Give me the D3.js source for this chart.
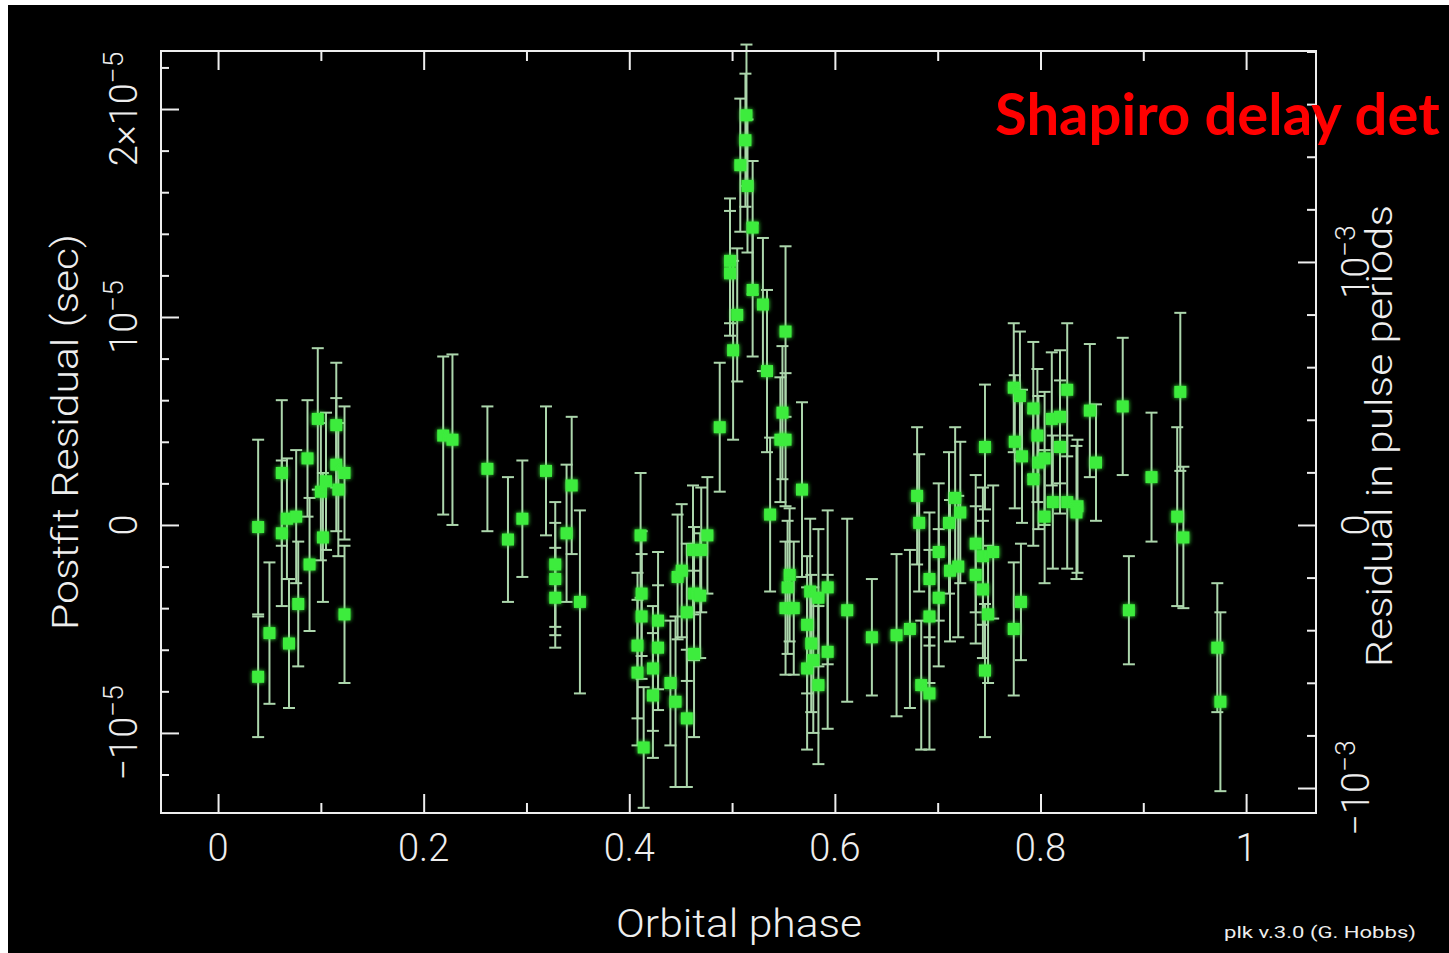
<!DOCTYPE html>
<html>
<head>
<meta charset="utf-8">
<script src="https://cdn.jsdelivr.net/npm/d3@7"></script>
<style>
  html, body { margin: 0; padding: 0; background: #ffffff; }
  svg { display: block; }
</style>
</head>
<body>
<div id="chart"></div>
<script>
// Postfit timing residuals vs orbital phase (plk plot)
// residuals and error bars in microseconds (10 us = 1e-5 s)
const phase = [
  0.039, 0.039, 0.050, 0.062, 0.062, 0.067, 0.069, 0.076, 0.078, 0.087,
  0.089, 0.097, 0.100, 0.102, 0.105, 0.115, 0.115, 0.117, 0.123, 0.123,
  0.219, 0.228, 0.262, 0.282, 0.296, 0.319, 0.328, 0.328, 0.328, 0.339,
  0.344, 0.352,
  0.411, 0.412, 0.412, 0.408, 0.408, 0.414, 0.428, 0.428, 0.423, 0.423,
  0.440, 0.445, 0.447, 0.451, 0.456, 0.456, 0.462, 0.463, 0.463, 0.469,
  0.470, 0.476,
  0.488, 0.498, 0.498, 0.501, 0.505, 0.508, 0.513, 0.514, 0.515, 0.520,
  0.520, 0.530, 0.534, 0.537, 0.547, 0.549, 0.552, 0.552, 0.568,
  0.556, 0.554, 0.552, 0.560, 0.576, 0.584, 0.593, 0.573, 0.577, 0.573,
  0.579, 0.584, 0.593, 0.612,
  0.636, 0.660, 0.673, 0.680, 0.682, 0.684, 0.692, 0.692, 0.692, 0.701,
  0.701, 0.711, 0.717, 0.722, 0.712, 0.720, 0.737, 0.744, 0.737, 0.744,
  0.749, 0.746, 0.746, 0.754, 0.774, 0.781, 0.774, 0.780, 0.775, 0.782,
  0.793, 0.797, 0.798, 0.793, 0.804, 0.804, 0.811, 0.819, 0.826, 0.819,
  0.812, 0.826, 0.836, 0.835, 0.848, 0.854, 0.880, 0.886, 0.908, 0.936,
  0.933, 0.939, 0.972, 0.975
];
const residualUs = [
  -0.1, -7.3, -5.2, 2.5, -0.4, 0.3, -5.7, 0.4, -3.8, 3.2,
  -1.9, 5.1, 1.6, -0.6, 2.1, 4.8, 2.9, 1.7, 2.5, -4.3,
  4.3, 4.1, 2.7, -0.7, 0.3, 2.6, -1.9, -2.6, -3.5, -0.4,
  1.9, -3.7,
  -0.5, -3.3, -4.4, -5.8, -7.1, -10.7, -4.6, -5.9, -6.9, -8.2,
  -7.6, -8.5, -2.5, -2.2, -4.2, -9.3, -1.2, -3.3, -6.2, -3.4,
  -1.2, -0.5,
  4.7, 12.7, 12.1, 8.4, 10.1, 17.3, 18.5, 19.7, 16.3, 14.3,
  11.3, 10.6, 7.4, 0.5, 4.1, 5.4, 9.3, 4.1, 1.7,
  -2.4, -3.0, -4.0, -4.0, -3.2, -3.5, -3.0, -4.8, -5.7, -6.9,
  -6.5, -7.7, -6.1, -4.1,
  -5.4, -5.3, -5.0, 1.4, 0.1, -7.7, -8.1, -2.6, -4.4, -1.3,
  -3.5, 0.1, 1.3, 0.6, -2.2, -2.0, -0.9, -1.5, -2.4, -3.1,
  -4.3, -7.0, 3.75, -1.3, -5.0, -3.7, 6.6, 6.2, 4.0, 3.3,
  5.6, 4.3, 3.0, 2.2, 3.2, 0.4, 5.1, 5.2, 6.5, 3.75,
  1.1, 1.1, 0.9, 0.6, 5.5, 3.0, 5.7, -4.1, 2.3, 6.4,
  0.4, -0.6, -5.9, -8.5
];
const errorUs = [
  4.2, 2.9, 3.4, 3.5, 3.5, 2.9, 3.1, 3.2, 3.0, 2.8,
  3.2, 3.4, 3.3, 3.1, 3.3, 3.0, 3.2, 3.2, 3.2, 3.3,
  3.8, 4.1, 3.0, 3.0, 2.8, 3.1, 3.0, 2.7, 2.4, 3.3,
  3.3, 4.4,
  3.0, 3.0, 3.0, 3.5, 3.5, 2.9, 3.3, 3.0, 3.0, 3.0,
  3.0, 4.1, 3.0, 3.2, 3.3, 3.3, 3.1, 3.2, 4.0, 3.0,
  3.0, 2.8,
  3.1, 3.0, 3.0, 4.3, 3.2, 3.2, 3.2, 3.4, 3.2, 3.2,
  3.2, 3.2, 3.9, 3.7, 3.0, 3.2, 4.1, 3.2, 4.2,
  3.2, 3.2, 3.2, 3.2, 3.5, 3.3, 3.7, 3.3, 3.3, 3.9,
  3.5, 3.8, 3.7, 4.4,
  2.8, 3.9, 3.8, 3.3, 3.3, 3.1, 2.7, 3.2, 3.2, 3.3,
  3.3, 3.4, 3.4, 3.4, 3.4, 3.4, 3.3, 3.3, 3.3, 3.3,
  3.3, 3.2, 3.0, 3.2, 3.2, 2.8, 3.1, 3.1, 3.2, 3.2,
  3.2, 3.2, 3.2, 3.2, 3.2, 3.2, 3.2, 3.2, 3.2, 3.2,
  3.2, 3.2, 3.2, 3.2, 3.2, 2.8, 3.3, 2.6, 3.1, 3.8,
  4.3, 3.4, 3.1, 4.3
];

// axis ticks
const xMajorTicks = [0, 0.2, 0.4, 0.6, 0.8, 1];
const xTickLabels = ["0", "0.2", "0.4", "0.6", "0.8", "1"];
const xMinorTicks = [0.1, 0.3, 0.5, 0.7, 0.9];
const yMajorTicks = [-10, 0, 10, 20];               // microseconds
const yTickLabels = [["\u221210", "\u22125"], ["0", ""], ["10", "\u22125"], ["2\u00d710", "\u22125"]];
const yMinorTicks = [-12, -8, -6, -4, -2, 2, 4, 6, 8, 12, 14, 16, 18, 22];
const rMajorTicks = [-1, 0, 1];                     // units of 1e-3 pulse periods
const rTickLabels = [["\u221210", "\u22123"], ["0", ""], ["10", "\u22123"]];
const rMinorTicks = [-0.8, -0.6, -0.4, -0.2, 0.2, 0.4, 0.6, 0.8, 1.2, 1.4, 1.6, 1.8];

const W = 1449, H = 953;
const frame = { left: 161, right: 1316, top: 51, bottom: 813 };
const ink = '#eeeeee';
const font = 'Roboto, "DejaVu Sans", sans-serif';

const svg = d3.select('#chart').append('svg')
    .attr('width', W)
    .attr('height', H);

svg.append('rect').attr('width', W).attr('height', H).attr('fill', '#ffffff');
svg.append('rect').attr('x', 8).attr('y', 5).attr('width', W - 8).attr('height', H - 5).attr('fill', '#000000');

const defs = svg.append('defs');
const glow = defs.append('filter').attr('id', 'glow')
    .attr('x', '-60%').attr('y', '-60%').attr('width', '220%').attr('height', '220%');
glow.append('feGaussianBlur').attr('stdDeviation', 2.2).attr('result', 'b');
const merge = glow.append('feMerge');
merge.append('feMergeNode').attr('in', 'b');
merge.append('feMergeNode').attr('in', 'SourceGraphic');

const x = d3.scaleLinear().domain([-0.0555, 1.068]).range([frame.left, frame.right]);
const y = d3.scaleLinear().domain([-13.85, 22.79]).range([frame.bottom, frame.top]);
const yR = d3.scaleLinear().domain([-1.095, 1.802]).range([frame.bottom, frame.top]);

// ---- data ----
const data = phase.map((p, i) => ({ p: p, r: residualUs[i], e: errorUs[i] }));
const plot = svg.append('g').attr('class', 'points');
const barColor = '#acd6ac';
const cap = 6;

plot.selectAll('line.err').data(data).enter().append('line')
    .attr('class', 'err')
    .attr('x1', d => x(d.p)).attr('x2', d => x(d.p))
    .attr('y1', d => y(d.r + d.e)).attr('y2', d => y(d.r - d.e))
    .attr('stroke', barColor).attr('stroke-width', 2);

['top', 'bottom'].forEach(side => {
    plot.selectAll('line.cap-' + side).data(data).enter().append('line')
        .attr('class', 'cap-' + side)
        .attr('x1', d => x(d.p) - cap).attr('x2', d => x(d.p) + cap)
        .attr('y1', d => y(side === 'top' ? d.r + d.e : d.r - d.e))
        .attr('y2', d => y(side === 'top' ? d.r + d.e : d.r - d.e))
        .attr('stroke', barColor).attr('stroke-width', 2);
});

plot.selectAll('rect.pt').data(data).enter().append('rect')
    .attr('class', 'pt')
    .attr('x', d => x(d.p) - 6).attr('y', d => y(d.r) - 6)
    .attr('width', 12).attr('height', 12)
    .attr('fill', '#3cec3c')
    .attr('filter', 'url(#glow)');

// ---- frame and ticks ----
const axes = svg.append('g').attr('class', 'axes');
const styleTicks = g => {
    g.select('.domain').remove();
    g.selectAll('.tick line').attr('stroke', ink).attr('stroke-width', 2);
    g.selectAll('.tick text').remove();
};

axes.append('g').attr('transform', `translate(0,${frame.bottom})`)
    .call(d3.axisBottom(x).tickValues(xMajorTicks).tickSize(-19).tickFormat('')).call(styleTicks);
axes.append('g').attr('transform', `translate(0,${frame.bottom})`)
    .call(d3.axisBottom(x).tickValues(xMinorTicks).tickSize(-10).tickFormat('')).call(styleTicks);
axes.append('g').attr('transform', `translate(0,${frame.top})`)
    .call(d3.axisTop(x).tickValues(xMajorTicks).tickSize(-19).tickFormat('')).call(styleTicks);
axes.append('g').attr('transform', `translate(0,${frame.top})`)
    .call(d3.axisTop(x).tickValues(xMinorTicks).tickSize(-10).tickFormat('')).call(styleTicks);
axes.append('g').attr('transform', `translate(${frame.left},0)`)
    .call(d3.axisLeft(y).tickValues(yMajorTicks).tickSize(-18).tickFormat('')).call(styleTicks);
axes.append('g').attr('transform', `translate(${frame.left},0)`)
    .call(d3.axisLeft(y).tickValues(yMinorTicks).tickSize(-8).tickFormat('')).call(styleTicks);
axes.append('g').attr('transform', `translate(${frame.right},0)`)
    .call(d3.axisRight(yR).tickValues(rMajorTicks).tickSize(-18).tickFormat('')).call(styleTicks);
axes.append('g').attr('transform', `translate(${frame.right},0)`)
    .call(d3.axisRight(yR).tickValues(rMinorTicks).tickSize(-9).tickFormat('')).call(styleTicks);

axes.append('rect')
    .attr('x', frame.left).attr('y', frame.top)
    .attr('width', frame.right - frame.left).attr('height', frame.bottom - frame.top)
    .attr('fill', 'none').attr('stroke', ink).attr('stroke-width', 2);

// ---- labels ----
const labels = svg.append('g')
    .attr('fill', ink)
    .style('font-family', font)
    .style('font-weight', 300);

labels.selectAll('text.xt').data(xMajorTicks).enter().append('text')
    .attr('class', 'xt')
    .attr('x', d => x(d)).attr('y', 861)
    .attr('text-anchor', 'middle')
    .style('font-size', '38px')
    .text((d, i) => xTickLabels[i]);

function rotatedTick(sel, xpos, scale, ticks, parts) {
    ticks.forEach((v, i) => {
        const t = sel.append('text')
            .attr('transform', `translate(${xpos},${scale(v)}) rotate(-90)`)
            .attr('text-anchor', 'middle')
            .style('font-size', '38px');
        t.append('tspan').text(parts[i][0]);
        if (parts[i][1]) {
            t.append('tspan').attr('dy', '-0.5em').style('font-size', '28px').text(parts[i][1]);
        }
    });
}
rotatedTick(labels, 137, y, yMajorTicks, yTickLabels);
rotatedTick(labels, 1369, yR, rMajorTicks, rTickLabels);

labels.append('text')
    .attr('transform', 'translate(78,432) rotate(-90)')
    .attr('text-anchor', 'middle')
    .attr('textLength', 396).attr('lengthAdjust', 'spacingAndGlyphs')
    .style('font-size', '37px')
    .text('Postfit Residual (sec)');

labels.append('text')
    .attr('transform', 'translate(1392,436) rotate(-90)')
    .attr('text-anchor', 'middle')
    .attr('textLength', 462).attr('lengthAdjust', 'spacingAndGlyphs')
    .style('font-size', '37px')
    .text('Residual in pulse periods');

labels.append('text')
    .attr('x', 739).attr('y', 937)
    .attr('text-anchor', 'middle')
    .attr('textLength', 246).attr('lengthAdjust', 'spacingAndGlyphs')
    .style('font-size', '38px')
    .text('Orbital phase');

labels.append('text')
    .attr('x', 1224).attr('y', 938)
    .attr('textLength', 192).attr('lengthAdjust', 'spacingAndGlyphs')
    .style('font-size', '17px')
    .style('font-weight', 400)
    .text('plk v.3.0 (G. Hobbs)');

// slide annotation (cut at the slide edge in the original)
svg.append('text')
    .attr('x', 995).attr('y', 135)
    .attr('fill', '#ff0000')
    .style('font-family', 'Lato, "Open Sans", sans-serif')
    .style('font-weight', 700)
    .style('font-size', '58px')
    .text('Shapiro delay det');
</script>
</body>
</html>
